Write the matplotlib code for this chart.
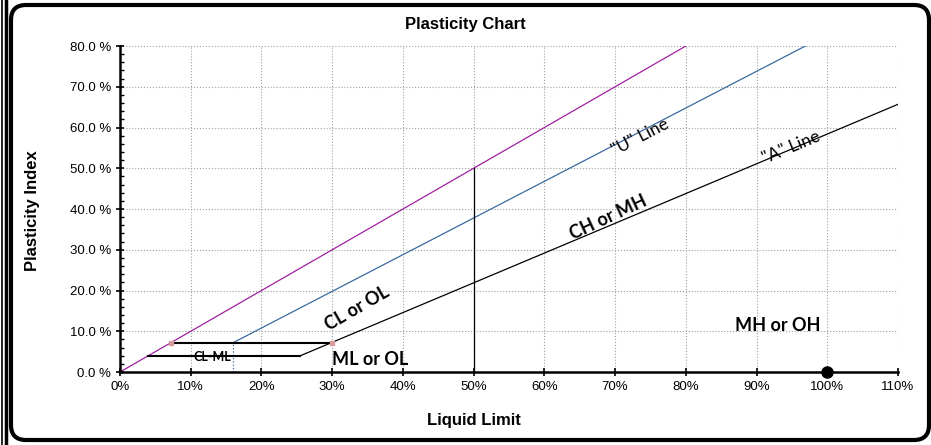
"""
Plasticity chart (Casagrande) with A-line, U-line and zone labels.
"""

import numpy as np
import matplotlib.pyplot as plt
from matplotlib.patches import FancyBboxPatch
from matplotlib.ticker import FuncFormatter, MultipleLocator

plt.rcParams['font.family'] = ['Liberation Sans', 'DejaVu Sans']

# line end points (liquid limit %, plasticity index %)
a_line_ll = [25.5, 110]
a_line_pi = [4.0, 65.7]
u_line_ll = [16, 96.9]
u_line_pi = [7.2, 80]
eq_line_ll = [0, 80]
eq_line_pi = [0, 80]
clml_top_ll = [7.2, 30]
clml_top_pi = [7.0, 7.0]
clml_bot_ll = [4, 25.5]
clml_bot_pi = [4, 4]
u_drop_ll = [16, 16]
u_drop_pi = [0, 7.2]
ll50_ll = [50, 50]
ll50_pi = [0, 50]
sample_ll = [100]
sample_pi = [0]

zone_labels = ['CL or OL', 'CH or MH', 'MH or OH', 'ML or OL', 'CL-ML']
zone_ll = [33.5, 69, 93, 35.4, 13]
zone_pi = [15.5, 38, 11.5, 3, 3.8]
zone_rot = [30, 25, 0, 0, 0]
zone_size = [13, 13, 13, 13, 9]

line_labels = ['"U" Line', '"A" Line']
line_label_ll = [73.5, 94.9]
line_label_pi = [57.7, 55.2]
line_label_slope = [0.9, 0.73]

fig = plt.figure(figsize=(9.31, 4.45), dpi=100)
ax = fig.add_axes([0.1289, 0.164, 0.8357, 0.7326])

ax.plot(eq_line_ll, eq_line_pi, color='#a020a0', lw=0.9)
ax.plot(u_line_ll, u_line_pi, color='#3a6aa0', lw=0.9)
ax.plot(u_drop_ll, u_drop_pi, color='#3a6aa0', lw=0.9, ls=':')
ax.plot(a_line_ll, a_line_pi, color='black', lw=0.9)
ax.plot(ll50_ll, ll50_pi, color='black', lw=0.9)
ax.plot(clml_top_ll, clml_top_pi, color='black', lw=1.5)
ax.plot(clml_bot_ll, clml_bot_pi, color='black', lw=1.5)
ax.plot(clml_top_ll, clml_top_pi, ls='none', marker='s', ms=3.5, color='#d89a9a')
ax.plot(sample_ll, sample_pi, 'o', color='black', ms=8, clip_on=False, zorder=5)

ax.set_xlim(0, 110)
ax.set_ylim(0, 80)
ax.xaxis.set_major_locator(MultipleLocator(10))
ax.yaxis.set_major_locator(MultipleLocator(10))
ax.yaxis.set_minor_locator(MultipleLocator(2))
ax.xaxis.set_major_formatter(FuncFormatter(lambda v, p: f'{v:.0f}%'))
ax.yaxis.set_major_formatter(FuncFormatter(lambda v, p: f'{v:.1f} %'))
ax.tick_params(axis='both', which='major', direction='inout', length=6, width=1.2,
               labelsize=9.5, colors='black')
ax.tick_params(axis='y', which='minor', direction='in', length=3, width=1)
ax.grid(True, which='major', color='#a0a0a0', ls=':', lw=0.8)
for s in ['top', 'right']:
    ax.spines[s].set_visible(False)
for s in ['left', 'bottom']:
    ax.spines[s].set_linewidth(1.8)

fig.text(0.5, 1 - 25 / 445, 'Plasticity Chart', fontsize=12, fontweight='bold',
         ha='center', va='center')
fig.text(474 / 931, 1 - 421 / 445, 'Liquid Limit', fontsize=12, fontweight='bold',
         ha='center', va='center')
fig.text(33 / 931, 1 - 211 / 445, 'Plasticity Index', fontsize=12, fontweight='bold',
         ha='center', va='center', rotation=90)


# text angle that follows a line of given slope on screen
def screen_angle(slope):
    p0 = ax.transData.transform((0, 0))
    p1 = ax.transData.transform((10, 10 * slope))
    return np.degrees(np.arctan2(p1[1] - p0[1], p1[0] - p0[0]))


for lab, x, y, r, fs in zip(zone_labels, zone_ll, zone_pi, zone_rot, zone_size):
    ax.text(x, y, lab, rotation=r, fontsize=fs, fontweight='bold', ha='center', va='center',
            family=['Lato', 'DejaVu Sans'], rotation_mode='anchor')

for lab, x, y, sl in zip(line_labels, line_label_ll, line_label_pi, line_label_slope):
    ax.text(x, y, lab, rotation=screen_angle(sl), fontsize=12.5, ha='center', va='center',
            family=['Lato', 'DejaVu Sans'], rotation_mode='anchor')

# rounded frame and the double rule on the left
fig.patches.append(FancyBboxPatch((0.11, 0.05), 9.18, 4.35,
                                  boxstyle='round,pad=0,rounding_size=0.15',
                                  transform=fig.dpi_scale_trans, fill=False, lw=3, ec='black'))
fig.add_artist(plt.Line2D([2 / 931, 2 / 931], [0, 1], transform=fig.transFigure, color='black', lw=1.2))
fig.add_artist(plt.Line2D([6 / 931, 6 / 931], [0, 1], transform=fig.transFigure, color='black', lw=2.5))

fig.savefig('out.png', dpi=100)
